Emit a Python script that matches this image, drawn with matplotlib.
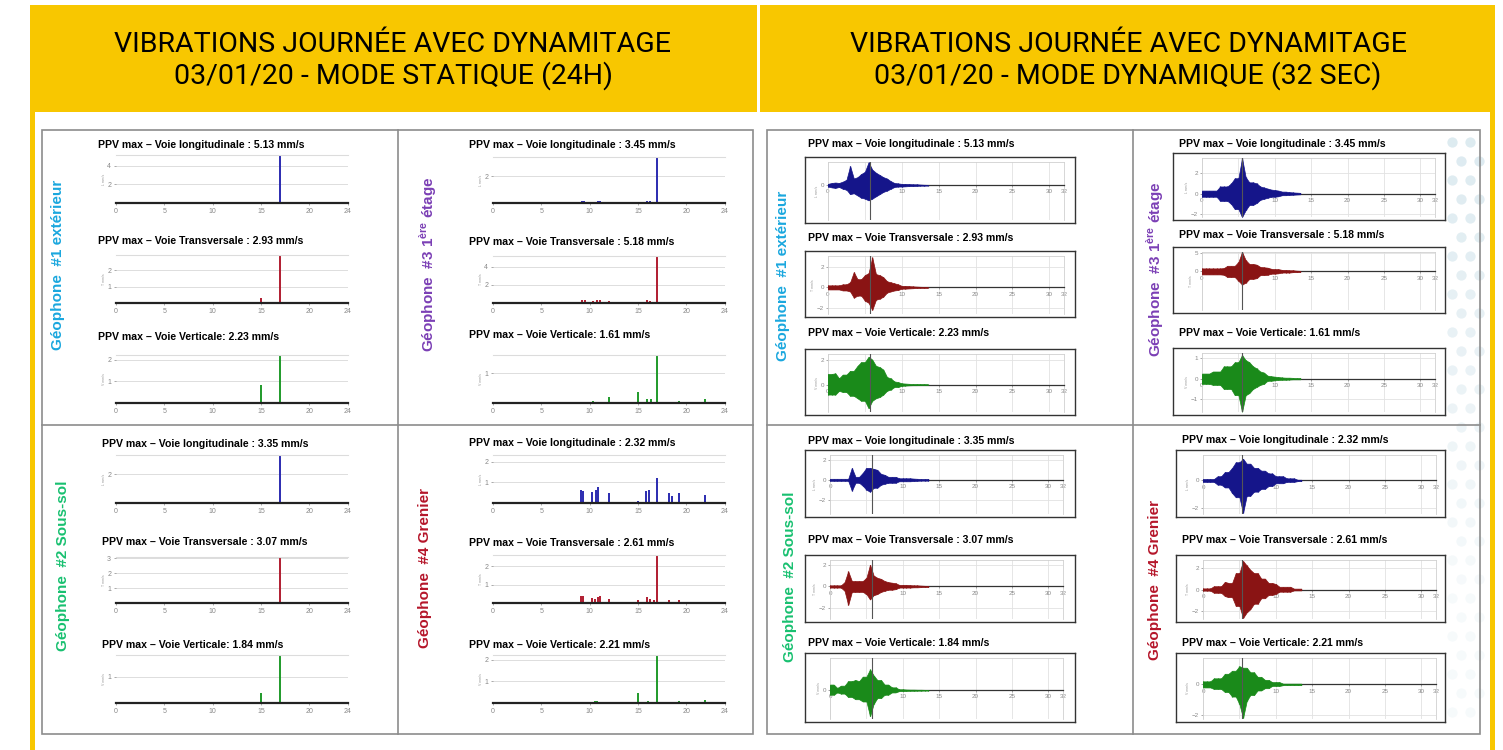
import numpy as np
import matplotlib.pyplot as plt
from matplotlib.patches import Rectangle

plt.rcParams['font.family'] = ['Liberation Sans', 'DejaVu Sans']
plt.rcParams['mathtext.fontset'] = 'custom'
plt.rcParams['mathtext.bf'] = 'Liberation Sans:bold'
plt.rcParams['mathtext.rm'] = 'Liberation Sans'

W, H = 1503, 750

# ---- mode statique (24h): heure des pics et amplitude (mm/s) ----
hour_ticks = [0, 5, 10, 15, 20, 24]

g1_l_t = [5, 10, 15, 17, 20]
g1_l_v = [0.06, 0.03, 0.05, 5.13, 0.04]
g1_t_t = [5, 10, 11, 15, 16.2, 17, 18.5, 20]
g1_t_v = [0.03, 0.03, 0.03, 0.3, 0.06, 2.93, 0.03, 0.03]
g1_v_t = [5, 9.8, 10, 15, 17, 18.5, 20]
g1_v_v = [0.04, 0.04, 0.04, 0.85, 2.23, 0.05, 0.03]

g3_l_t = [5, 9.2, 9.4, 10.3, 10.9, 11.1, 12, 15, 15.9, 16.2, 17, 18.3, 19.2, 20, 21.9]
g3_l_v = [0.03, 0.15, 0.12, 0.1, 0.15, 0.12, 0.06, 0.06, 0.12, 0.12, 3.45, 0.08, 0.08, 0.05, 0.06]
g3_t_t = [5, 9.2, 9.5, 10.3, 10.8, 11.1, 12, 15, 15.9, 16.2, 17, 18.3, 19.2, 21.6, 21.9, 23]
g3_t_v = [0.03, 0.3, 0.3, 0.25, 0.3, 0.35, 0.2, 0.1, 0.3, 0.2, 5.18, 0.15, 0.15, 0.12, 0.12, 0.05]
g3_v_t = [5, 9.5, 10.3, 10.8, 12, 15, 15.9, 16.3, 17, 18.5, 19.2, 21.9]
g3_v_v = [0.03, 0.05, 0.07, 0.05, 0.2, 0.38, 0.15, 0.13, 1.61, 0.03, 0.08, 0.15]

g2_l_t = [5, 10, 15, 17, 20]
g2_l_v = [0.04, 0.02, 0.05, 3.35, 0.02]
g2_t_t = [5, 11, 15, 17, 20]
g2_t_v = [0.03, 0.03, 0.05, 3.07, 0.02]
g2_v_t = [5, 15, 16, 17, 18, 18.5]
g2_v_v = [0.02, 0.4, 0.03, 1.84, 0.03, 0.02]

g4_l_t = [5, 8, 9.1, 9.3, 10.2, 10.7, 10.9, 12, 15, 15.8, 16.1, 17, 18.2, 18.5, 19.2, 20, 21.9]
g4_l_v = [0.03, 0.03, 0.65, 0.6, 0.55, 0.65, 0.75, 0.5, 0.1, 0.6, 0.65, 1.2, 0.5, 0.35, 0.5, 0.03, 0.4]
g4_t_t = [5, 9.1, 9.3, 10.2, 10.6, 10.9, 11.1, 12, 15, 15.9, 16.2, 16.7, 17, 18.2, 19.2, 21.8]
g4_t_v = [0.03, 0.4, 0.4, 0.25, 0.2, 0.35, 0.4, 0.2, 0.15, 0.3, 0.2, 0.15, 2.61, 0.15, 0.15, 0.06]
g4_v_t = [5, 9.2, 10.5, 10.8, 12, 15, 16, 17, 18.5, 19.2, 21.9]
g4_v_v = [0.03, 0.05, 0.08, 0.1, 0.04, 0.45, 0.1, 2.21, 0.04, 0.08, 0.15]

# PPV max par géophone (L, T, V)
ppv_g1 = [5.13, 2.93, 2.23]
ppv_g3 = [3.45, 5.18, 1.61]
ppv_g2 = [3.35, 3.07, 1.84]
ppv_g4 = [2.32, 2.61, 2.21]

# ---- mode dynamique (32 s): enveloppe +/- lue toutes les 0.5 s de 0 à 13.5 s ----
sec_ticks = [0, 5, 10, 15, 20, 25, 30, 32]
env_t = np.arange(0, 14, 0.5)

d1_l_up = [.3, .5, .6, .5, .8, 1.2, 4.3, 1.5, 1.8, 2.5, 3.0, 5.13, 3.5, 2.8, 2.3, 1.8, 1.5, .9, .5, .4, .3, .3, .25, .2, .2, .15, .1, .08]
d1_l_dn = [.3, .5, .6, .4, .8, 1.0, 2.0, 1.8, 2.3, 2.8, 3.0, 3.4, 3.0, 2.5, 2.0, 1.5, 1.2, .8, .4, .3, .3, .25, .2, .2, .15, .1, .1, .08]
d1_t_up = [.2, .2, .2, .2, .3, .3, .5, 1.5, .8, .8, 1.2, 1.4, 2.93, 1.3, 1.2, 1.0, .6, .5, .4, .3, .15, .15, .12, .1, .08, .06, .05, .05]
d1_t_dn = [.2, .2, .2, .2, .3, .3, .4, 1.0, .8, .8, 1.3, 1.5, 2.2, 1.2, 1.1, .9, .5, .4, .3, .25, .12, .12, .1, .08, .06, .05, .05, .05]
d1_v_up = [.85, .85, .9, .5, .8, .8, 1.1, 1.1, 1.5, 1.8, 1.8, 2.23, 2.0, 1.5, 1.4, 1.2, .6, .5, .25, .2, .1, .08, .06, .05, .05, .04, .04, .03]
d1_v_dn = [.8, .8, .8, .5, .6, .6, .9, .9, 1.1, 1.3, 1.3, 1.9, 1.3, 1.1, 1.0, .8, .5, .4, .2, .2, .1, .08, .06, .05, .05, .04, .04, .03]

d3_l_up = [.3, .3, .3, .3, .3, .7, .7, .7, 1.0, 1.5, 1.5, 3.45, 1.6, 1.1, 1.1, 1.0, .7, .6, .5, .4, .35, .3, .2, .2, .15, .12, .1, .08]
d3_l_dn = [.3, .3, .3, .3, .3, .7, .7, .7, 1.0, 1.5, 1.5, 2.27, 1.6, 1.1, 1.1, .9, .6, .5, .4, .3, .3, .25, .15, .15, .12, .1, .08, .06]
d3_t_up = [.8, .8, .8, .8, .8, .8, .9, 1.5, 1.5, 1.5, 2.5, 5.18, 3.0, 2.0, 2.0, 1.8, 1.2, 1.1, 1.0, .7, .6, .6, .4, .4, .3, .3, .2, .15]
d3_t_dn = [.8, .8, .8, .8, .8, .8, .9, 1.5, 1.5, 1.5, 2.5, 3.5, 3.0, 2.0, 2.0, 1.8, 1.0, 1.0, .9, .6, .6, .5, .3, .3, .3, .2, .2, .15]
d3_v_up = [.25, .25, .25, .35, .35, .35, .6, .6, .6, .8, .8, 1.15, .9, .8, .6, .5, .35, .3, .15, .12, .1, .08, .06, .05, .05, .04, .03, .03]
d3_v_dn = [.25, .25, .25, .3, .3, .3, .5, .5, .5, .8, .8, 1.61, .8, .7, .5, .4, .3, .25, .1, .1, .08, .06, .05, .05, .04, .03, .03, .03]

d2_l_up = [.1, .1, .1, .1, .1, .1, 1.2, .3, .3, .7, 1.2, 1.2, 1.1, 1.0, .6, .5, .3, .3, .3, .15, .15, .15, .15, .12, .1, .08, .08, .08]
d2_l_dn = [.1, .1, .1, .1, .1, .1, 1.1, .3, .3, .6, 1.0, 1.2, .8, .8, .5, .4, .3, .3, .3, .15, .15, .15, .15, .12, .1, .08, .08, .08]
d2_t_up = [.1, .1, .1, .1, .4, 1.4, .5, .5, .5, .5, .8, 2.0, 1.0, .8, .7, .5, .4, .35, .3, .15, .15, .15, .12, .1, .1, .08, .06, .05]
d2_t_dn = [.1, .1, .1, .1, .4, 1.7, .5, .5, .5, .5, .7, 1.2, .8, .7, .5, .4, .3, .3, .25, .1, .1, .1, .1, .08, .08, .06, .05, .05]
d2_v_up = [.5, .5, .2, .4, .4, .8, .8, .9, .8, 1.2, 1.2, 1.84, 1.3, .9, .9, .5, .5, .25, .25, .08, .08, .06, .05, .05, .04, .04, .03, .03]
d2_v_dn = [.4, .4, .2, .3, .3, .6, .6, .8, .8, 1.0, 1.0, 2.3, 1.2, .7, .7, .4, .4, .2, .2, .08, .08, .06, .05, .05, .04, .04, .03, .03]

d4_l_up = [.1, .1, .1, .1, .3, .3, .6, .6, .9, 1.3, 1.3, 1.55, 1.2, 1.2, .9, .9, .7, .7, .5, .5, .3, .3, .3, .15, .15, .15, .05, .05]
d4_l_dn = [.1, .1, .1, .1, .3, .3, .5, .5, .9, 1.2, 1.2, 2.32, 1.1, 1.1, .8, .8, .6, .6, .4, .4, .2, .2, .2, .1, .1, .1, .05, .05]
d4_t_up = [.1, .1, .1, .3, .3, .3, .7, .6, .6, 1.5, 1.5, 2.61, 2.2, 1.8, 1.5, 1.5, 1.0, 1.0, .6, .6, .5, .25, .25, .25, .25, .08, .08, .08]
d4_t_dn = [.1, .1, .1, .3, .3, .3, .6, .7, .7, 1.5, 1.5, 2.6, 2.1, 1.8, 1.3, 1.3, .8, .8, .5, .5, .4, .2, .2, .2, .2, .08, .08, .08]
d4_v_up = [.2, .2, .2, .4, .4, .4, .7, .7, .9, .9, 1.2, 1.1, 1.1, .8, .8, .5, .5, .3, .3, .15, .15, .15, .05, .05, .05, .05, .05, .05]
d4_v_dn = [.2, .2, .2, .3, .3, .3, .5, .5, .8, .8, 1.3, 2.21, 1.1, .7, .7, .4, .4, .25, .25, .1, .1, .1, .05, .05, .05, .05, .05, .05]

# instant de déclenchement (s) par géophone
trig_g1, trig_g3, trig_g2, trig_g4 = 5.65, 5.5, 5.7, 5.3

channels = ['longitudinale', 'Transversale', 'Verticale']
chan_letters = ['L', 'T', 'V']
st_colors = ['#2b2bb0', '#b01c30', '#1f9a2a']
dy_colors = ['#15158a', '#8a1414', '#1a8a1a']

YELLOW = '#F8C700'
GREY_BOX = '#8c8c8c'


def frac(x0, y0, x1, y1):
    return [x0 / W, 1 - y1 / H, (x1 - x0) / W, (y1 - y0) / H]


def title_text(i, ppv):
    sep = ' : ' if i < 2 else ': '
    return 'PPV max – Voie ' + channels[i] + sep + '%.2f mm/s' % ppv


def static_panel(box, t, v, color, ppv, yticks, letter):
    ax = fig.add_axes(frac(*box))
    ax.patch.set_alpha(0)
    ax.vlines(t, 0, v, color=color, lw=1.4)
    ax.set_xlim(0, 24)
    ax.set_ylim(0, ppv)
    ax.set_xticks(hour_ticks)
    ax.set_yticks(yticks)
    ax.grid(axis='y', color='#d8d8d8', lw=0.6)
    ax.spines['left'].set_visible(False)
    ax.spines['right'].set_visible(False)
    ax.spines['top'].set_color('#dcdcdc')
    ax.spines['bottom'].set_color('#222')
    ax.spines['bottom'].set_linewidth(1.6)
    ax.tick_params(labelsize=5, colors='#888', length=1.5, width=0.5, pad=2)
    ax.set_ylabel(letter + ' mm/s', fontsize=2.5, color='#999', labelpad=1)
    return ax


def dyn_panel(frame, inner, up, dn, color, ylim, yticks, trig, letter):
    fr = fig.add_axes(frac(*frame))
    fr.set_xticks([])
    fr.set_yticks([])
    for s in fr.spines.values():
        s.set_color('#333')
        s.set_linewidth(1.0)
    ax = fig.add_axes(frac(*inner))
    ax.patch.set_alpha(0)
    up = np.array(up)
    dn = np.array(dn)
    ax.fill_between(env_t, up, -dn, color=color, lw=0.5, zorder=3)
    ax.vlines(env_t, -dn, up, color=color, lw=0.9, zorder=3)
    ax.axvline(trig, color='#555', lw=0.8, zorder=4)
    ax.set_xlim(0, 32)
    ax.set_ylim(*ylim)
    ax.set_xticks(sec_ticks)
    ax.set_yticks(yticks)
    ax.grid(color='#e2e2e2', lw=0.6)
    ax.spines['bottom'].set_position(('data', 0))
    ax.spines['bottom'].set_color('#333')
    ax.spines['bottom'].set_linewidth(0.9)
    for s in ['left', 'top', 'right']:
        ax.spines[s].set_color('#d0d0d0')
        ax.spines[s].set_linewidth(0.6)
    ax.tick_params(labelsize=4.5, colors='#888', length=1.5, width=0.5, pad=1.5)
    ax.set_ylabel(letter + ' mm/s', fontsize=2.5, color='#999', labelpad=1)
    return ax


fig = plt.figure(figsize=(W / 100, H / 100), dpi=100)
bg = fig.add_axes([0, 0, 1, 1])
bg.set_xlim(0, W)
bg.set_ylim(H, 0)
bg.axis('off')

# bandeaux jaunes et bordures
bg.add_patch(Rectangle((30, 5), 727, 107, color=YELLOW, lw=0))
bg.add_patch(Rectangle((760, 5), 735, 107, color=YELLOW, lw=0))
bg.add_patch(Rectangle((30, 112), 5, H - 112, color=YELLOW, lw=0))
bg.add_patch(Rectangle((1490, 112), 5, H - 112, color=YELLOW, lw=0))

# points décoratifs bleu pâle à droite de l'image dynamique
for k, yy in enumerate(range(142, 730, 19)):
    xs = [1452, 1470] if k % 2 == 0 else [1461, 1479]
    fade = max(0.12, 0.5 - (yy - 140) / 1200)
    bg.scatter(xs, [yy] * len(xs), s=55, color='#bcd7e2', alpha=fade, lw=0, zorder=0.5)

header_kw = dict(ha='center', va='center', fontsize=20.5, family=['Roboto', 'Liberation Sans'])
bg.text(393, 44, 'VIBRATIONS JOURNÉE AVEC DYNAMITAGE', **header_kw)
bg.text(393, 76, '03/01/20 - MODE STATIQUE (24H)', **header_kw)
bg.text(1128, 44, 'VIBRATIONS JOURNÉE AVEC DYNAMITAGE', **header_kw)
bg.text(1128, 76, '03/01/20 - MODE DYNAMIQUE (32 SEC)', **header_kw)

# cadres gris des deux images
for x0, x1, xm in [(42, 753, 398), (767, 1480, 1133)]:
    bg.add_patch(Rectangle((x0, 130), x1 - x0, 604, fill=False, ec=GREY_BOX, lw=1.2))
    bg.plot([xm, xm], [130, 734], color=GREY_BOX, lw=1.2)
    bg.plot([x0, x1], [425, 425], color=GREY_BOX, lw=1.2)

# étiquettes des géophones
geo_labels = ['Géophone  #1 extérieur', 'Géophone  #3 1$^{\\mathbf{ère}}$ étage',
              'Géophone  #2 Sous-sol', 'Géophone  #4 Grenier']
geo_colors = ['#1aa7de', '#7b3fb5', '#18c070', '#b5162a']
st_label_pos = [(58, 265), (428, 264), (63, 566), (425, 568)]
dy_label_pos = [(783, 276), (1155, 269), (790, 577), (1155, 580)]
for lab, col, p1, p2 in zip(geo_labels, geo_colors, st_label_pos, dy_label_pos):
    for (x, y) in (p1, p2):
        bg.text(x, y, lab, rotation=90, ha='center', va='center', color=col,
                fontsize=11, fontweight='bold')

# ---- panneaux statiques ----
st_data = [
    [(g1_l_t, g1_l_v), (g1_t_t, g1_t_v), (g1_v_t, g1_v_v)],
    [(g3_l_t, g3_l_v), (g3_t_t, g3_t_v), (g3_v_t, g3_v_v)],
    [(g2_l_t, g2_l_v), (g2_t_t, g2_t_v), (g2_v_t, g2_v_v)],
    [(g4_l_t, g4_l_v), (g4_t_t, g4_t_v), (g4_v_t, g4_v_v)],
]
ppvs = [ppv_g1, ppv_g3, ppv_g2, ppv_g4]
st_yticks = [[[2, 4], [1, 2], [1, 2]],
             [[2], [2, 4], [1]],
             [[2], [1, 2, 3], [1]],
             [[1, 2], [1, 2], [1, 2]]]
st_x = [(116, 348), (493, 725), (116, 348), (493, 725)]
st_y = [[(155, 203), (255, 303), (355, 403)],
        [(157, 203), (256, 303), (355, 403)],
        [(455, 503), (557, 603), (655, 703)],
        [(455, 503), (555, 603), (655, 703)]]
st_title_x = [98, 469, 102, 469]
st_title_y = [[145, 241, 337], [145, 242, 335], [444, 542, 645], [443, 543, 645]]

for q in range(4):
    for i in range(3):
        t, v = st_data[q][i]
        (y0, y1) = st_y[q][i]
        static_panel((st_x[q][0], y0, st_x[q][1], y1), t, v, st_colors[i],
                     ppvs[q][i], st_yticks[q][i], chan_letters[i])
        bg.text(st_title_x[q], st_title_y[q][i], title_text(i, ppvs[q][i]),
                ha='left', va='center', fontsize=7.6, fontweight='bold')

# ---- panneaux dynamiques ----
dy_data = [
    [(d1_l_up, d1_l_dn), (d1_t_up, d1_t_dn), (d1_v_up, d1_v_dn)],
    [(d3_l_up, d3_l_dn), (d3_t_up, d3_t_dn), (d3_v_up, d3_v_dn)],
    [(d2_l_up, d2_l_dn), (d2_t_up, d2_t_dn), (d2_v_up, d2_v_dn)],
    [(d4_l_up, d4_l_dn), (d4_t_up, d4_t_dn), (d4_v_up, d4_v_dn)],
]
trigs = [trig_g1, trig_g3, trig_g2, trig_g4]
dy_ylims = [[(-7.8, 5.2), (-2.6, 3.07), (-2.2, 2.45)],
            [(-2.27, 3.47), (-10.3, 5.18), (-1.62, 1.25)],
            [(-3.45, 2.5), (-3.0, 2.44), (-2.55, 2.85)],
            [(-2.4, 1.82), (-2.7, 2.7), (-2.28, 1.74)]]
dy_yticks = [[[0], [-2, 0, 2], [0, 2]],
             [[-2, 0, 2], [0, 5], [-1, 0, 1]],
             [[-2, 0, 2], [-2, 0, 2], [0]],
             [[-2, 0], [-2, 0, 2], [-2, 0]]]
dy_frame_x = [(805, 1075), (1173, 1445), (805, 1075), (1176, 1445)]
dy_inner_x = [(828, 1064), (1202, 1435), (830, 1063), (1203, 1436)]
dy_frame_y = [[(157, 223), (251, 317), (349, 415)],
              [(153, 220), (247, 313), (348, 415)],
              [(450, 517), (555, 622), (653, 722)],
              [(450, 517), (555, 622), (653, 722)]]
dy_title_x = [808, 1179, 808, 1182]
dy_title_y = [[144, 238, 333], [144, 235, 333], [441, 540, 643], [440, 540, 643]]

for q in range(4):
    for i in range(3):
        up, dn = dy_data[q][i]
        fy0, fy1 = dy_frame_y[q][i]
        frame = (dy_frame_x[q][0], fy0, dy_frame_x[q][1], fy1)
        inner = (dy_inner_x[q][0], fy0 + 5, dy_inner_x[q][1], fy1 - 3)
        dyn_panel(frame, inner, up, dn, dy_colors[i], dy_ylims[q][i],
                  dy_yticks[q][i], trigs[q], chan_letters[i])
        bg.text(dy_title_x[q], dy_title_y[q][i], title_text(i, ppvs[q][i]),
                ha='left', va='center', fontsize=7.6, fontweight='bold')

fig.savefig('out.png', dpi=100)
